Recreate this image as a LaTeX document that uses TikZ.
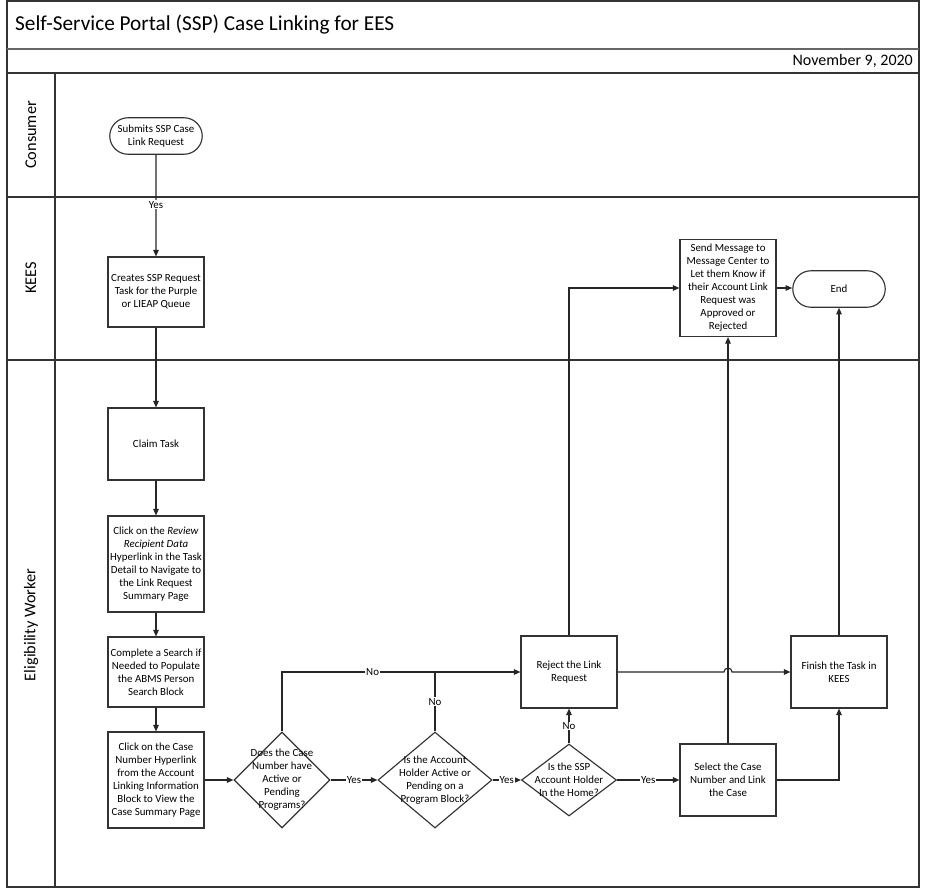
\documentclass[tikz,border=0pt]{standalone}
\usepackage{fontspec}
\setmainfont{Carlito}
\usetikzlibrary{arrows.meta, shapes.geometric, shapes.misc}
\tikzset{
    proc/.style={draw=black!80, line width=0.65pt, fill=white, minimum width=1.92cm, align=center, inner sep=1pt, font=\fontsize{6.2}{7.4}\selectfont},
    term/.style={proc, rounded rectangle, minimum height=0.73cm},
    dec/.style={draw=black!80, line width=0.65pt, diamond, inner sep=0pt},
    dectext/.style={align=center, font=\fontsize{6.2}{7.4}\selectfont},
    lbl/.style={fill=white, inner sep=0.5pt, font=\fontsize{6.2}{7.4}\selectfont},
    lane/.style={rotate=90, font=\fontsize{9.3}{11}\selectfont},
    conn/.style={draw=black!85, line width=0.65pt},
    >={Triangle[length=1.3mm, width=1.1mm]}
}
\begin{document}
\begin{tikzpicture}[x=0.02cm, y=-0.02cm]
    \useasboundingbox (0,0) rectangle (926,889);
    \draw[black!80, line width=0.7pt] (7,1) rectangle (919,887);
    \draw[black!60, line width=1.2pt] (7,49) -- (919,49);
    \draw[black!80, line width=0.7pt] (7,73) -- (919,73);
    \draw[black!80, line width=0.7pt] (7,197) -- (919,197);
    \draw[black!80, line width=0.7pt] (7,360) -- (919,360);
    \draw[black!80, line width=0.7pt] (55,73) -- (55,887);
    \node(title)[anchor=west, font=\fontsize{12.1}{14}\selectfont] at (9,25) {Self-Service Portal (SSP) Case Linking for EES};
    \node(date)[anchor=east, font=\fontsize{9.1}{11}\selectfont] at (919,61) {November 9, 2020};
    \node(consumer)[lane] at (31,135) {Consumer};
    \node(kees)[lane] at (31,278) {KEES};
    \node(ew)[lane] at (31,625) {Eligibility Worker};

    \node(start)[term] at (156,136) {Submits SSP Case\\Link Request};
    \node(creates)[proc, minimum height=1.4cm] at (156,292) {Creates SSP Request\\Task for the Purple\\or LIEAP Queue};
    \node(claim)[proc, minimum height=1.44cm] at (156,444) {Claim Task};
    \node(review)[proc, minimum height=1.92cm] at (156,564) {Click on the \textit{Review}\\\textit{Recipient Data}\\Hyperlink in the Task\\Detail to Navigate to\\the Link Request\\Summary Page};
    \node(search)[proc, minimum height=1.4cm] at (156,672) {Complete a Search if\\Needed to Populate\\the ABMS Person\\Search Block};
    \node(cs)[proc, minimum height=1.92cm] at (156,780) {Click on the Case\\Number Hyperlink\\from the Account\\Linking Information\\Block to View the\\Case Summary Page};
    \node(d1)[dec, minimum width=1.92cm, minimum height=1.92cm, label={[dectext]center:Does the Case\\Number have\\Active or\\Pending\\Programs?}] at (282,780) {};
    \node(d2)[dec, minimum width=2.28cm, minimum height=1.92cm, label={[dectext]center:Is the Account\\Holder Active or\\Pending on a\\Program Block?}] at (435,780) {};
    \node(d3)[dec, minimum width=1.9cm, minimum height=1.44cm, label={[dectext]center:Is the SSP\\Account Holder\\In the Home?}] at (569,780) {};
    \node(rej)[proc, minimum height=1.44cm] at (569,672) {Reject the Link\\Request};
    \node(sel)[proc, minimum height=1.44cm] at (728,780) {Select the Case\\Number and Link\\the Case};
    \node(fin)[proc, minimum height=1.44cm] at (839,672) {Finish the Task in\\KEES};
    \node(send)[proc, minimum height=1.94cm] at (728,288) {Send Message to\\Message Center to\\Let them Know if\\their Account Link\\Request was\\Approved or\\Rejected};
    \node(end)[term] at (839,289) {End};
    \coordinate(j2) at (435,672);
    \coordinate(jmp) at (724,672);

    \draw[conn, ->] (start) -- node[lbl, pos=0.49]{Yes} (creates);
    \draw[conn, ->] (creates) -- (claim);
    \draw[conn, ->] (claim) -- (review);
    \draw[conn, ->] (review) -- (search);
    \draw[conn, ->] (search) -- (cs);
    \draw[conn, ->] (cs) -- (d1);
    \draw[conn, ->] (d1) -- node[lbl]{Yes} (d2);
    \draw[conn, ->] (d2) -- node[lbl]{Yes} (d3);
    \draw[conn, ->] (d3) -- node[lbl]{Yes} (sel);
    \draw[conn, ->] (d1.north) |- node[lbl, pos=0.69]{No} (rej.west);
    \draw[conn] (d2.north) -- node[lbl]{No} (j2);
    \draw[conn, ->] (d3.north) -- node[lbl]{No} (rej.south);
    \draw[conn, ->] (rej.east) -- (jmp) arc[start angle=180, end angle=360, radius=4] -- (fin.west);
    \draw[conn, ->] (sel.east) -| (fin.south);
    \draw[conn, ->] (sel.north) -- (send.south);
    \draw[conn, ->] (rej.north) |- (send.west);
    \draw[conn, ->] (send.east) -- (send.east -| end.west);
    \draw[conn, ->] (fin.north) -- (end.south);
\end{tikzpicture}
\end{document}
